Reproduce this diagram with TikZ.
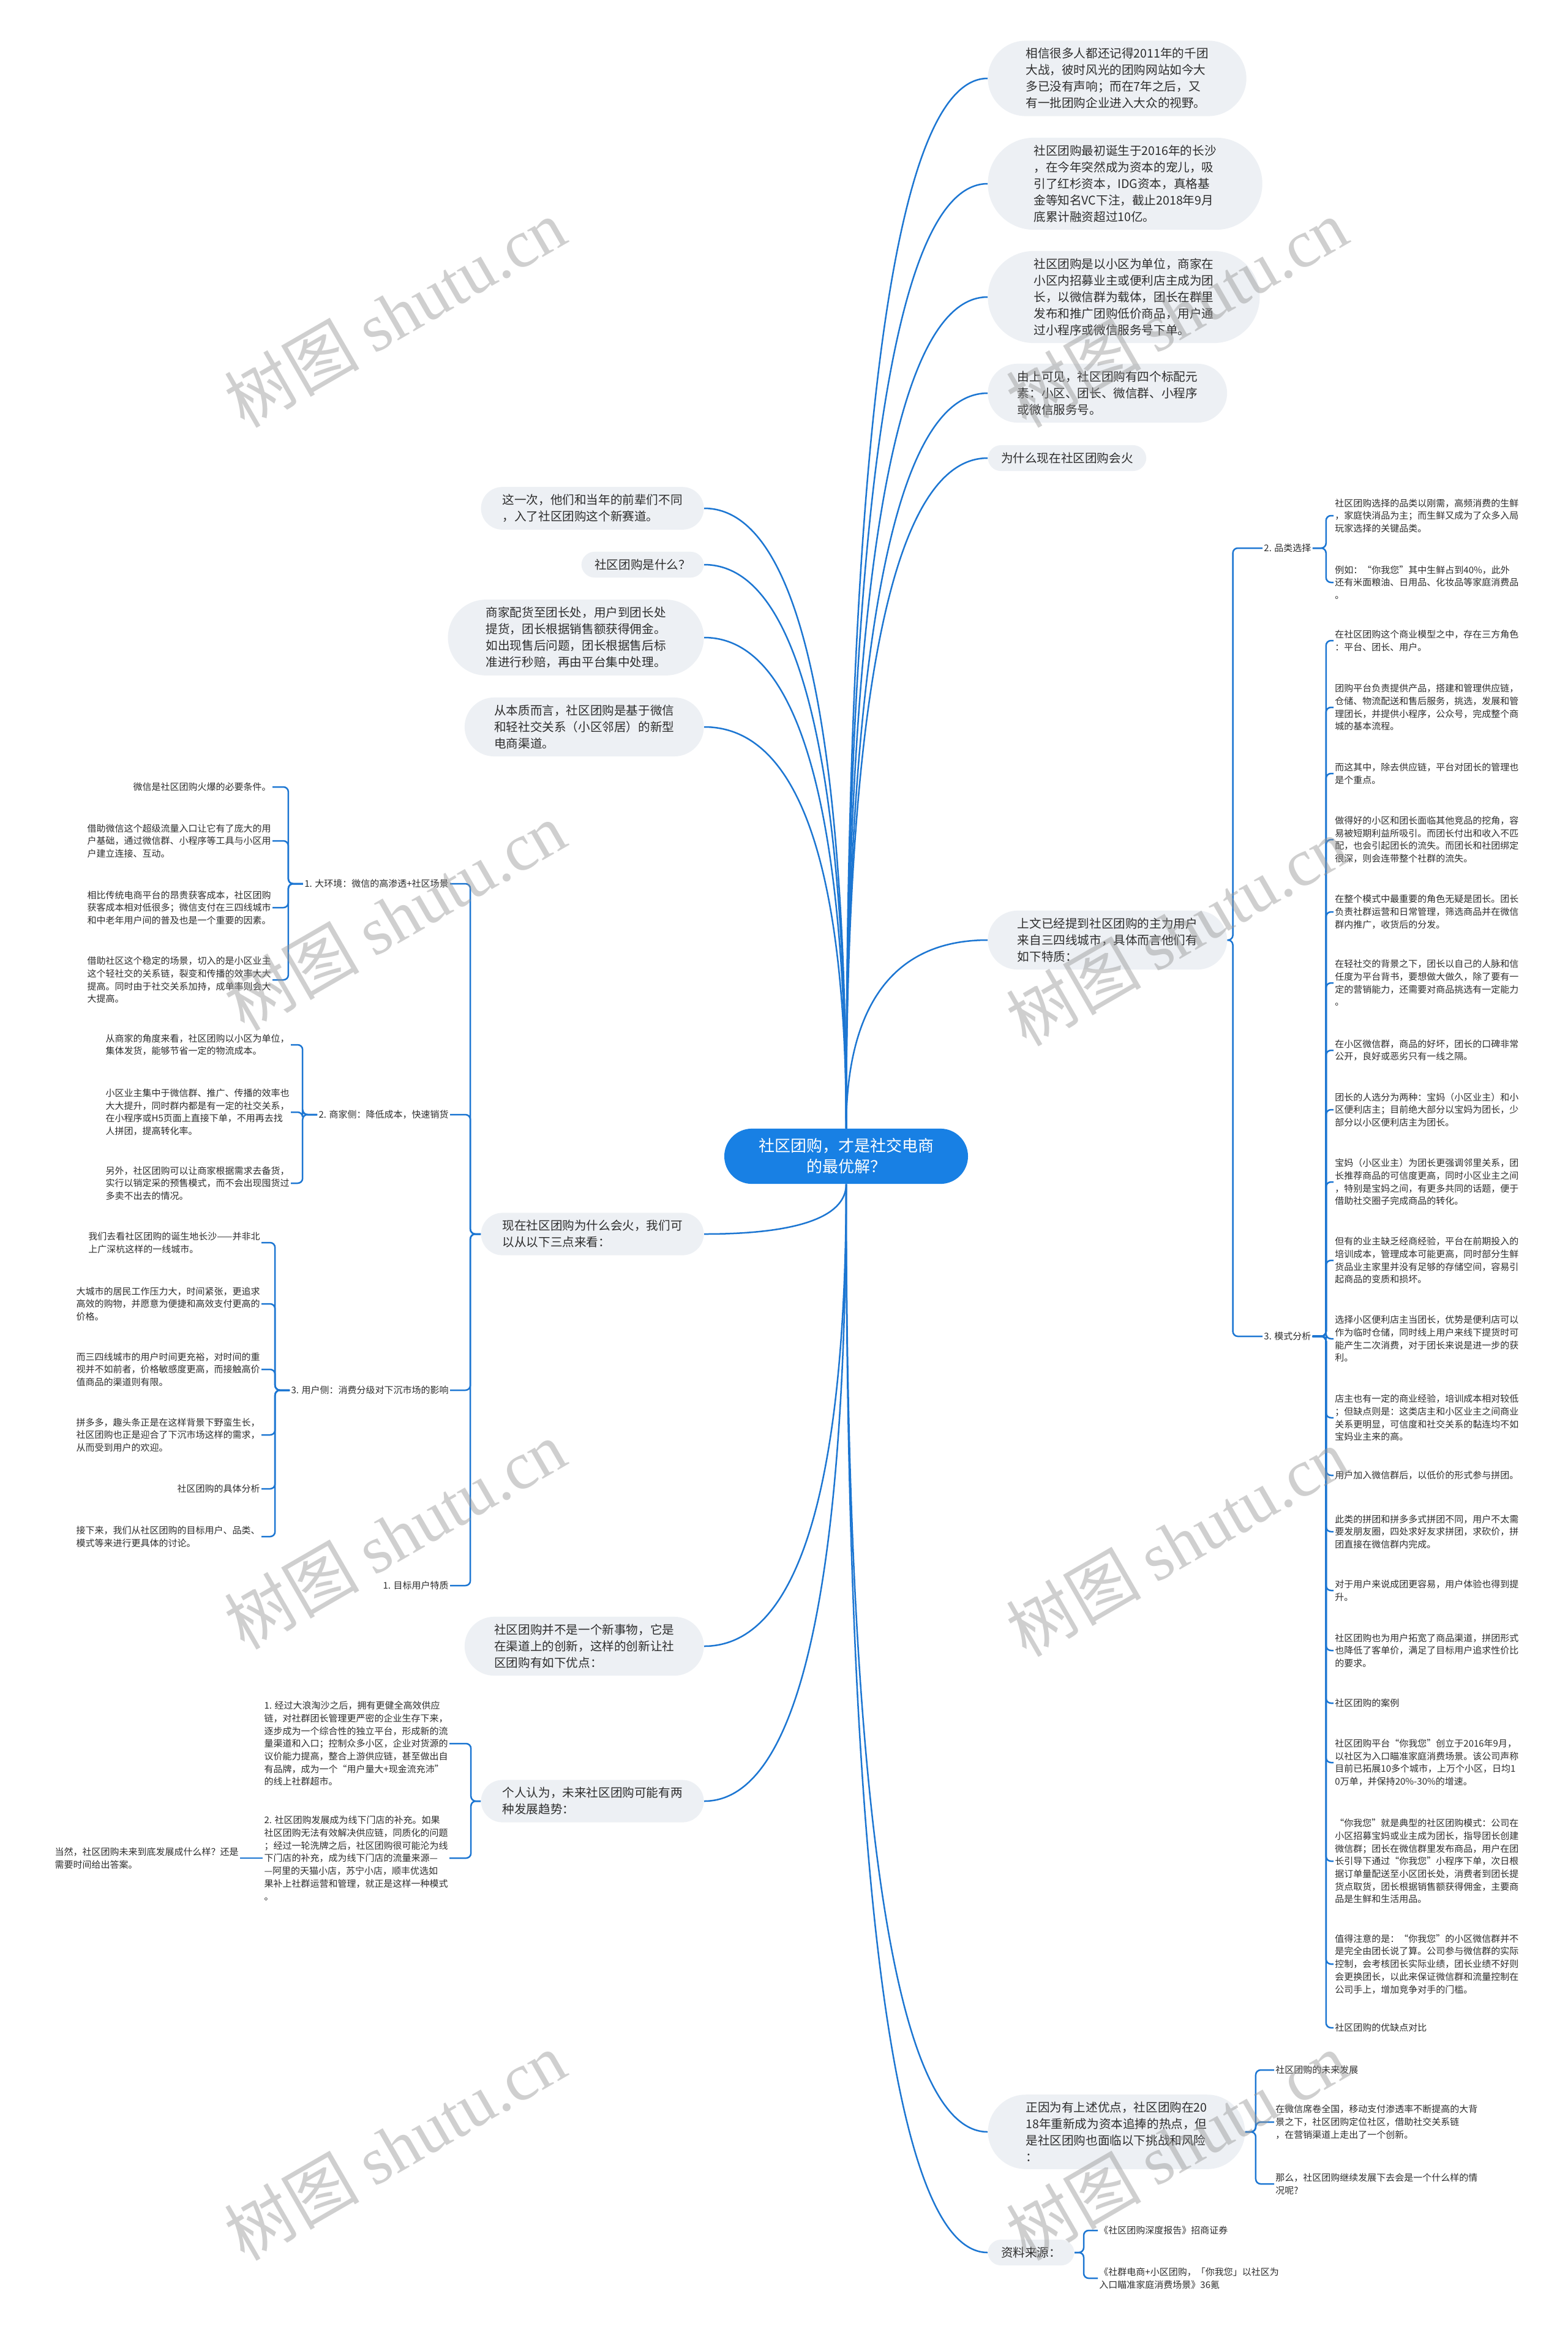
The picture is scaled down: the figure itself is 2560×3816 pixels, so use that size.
\documentclass[tikz,border=0pt]{standalone}
\usepackage{fontspec}
\setmainfont{Noto Sans CJK SC}
\newfontfamily\wmserif{Liberation Serif}
\usetikzlibrary{calc}
\definecolor{lineblue}{RGB}{28,118,210}
\definecolor{centerblue}{RGB}{24,128,228}
\definecolor{nodegray}{RGB}{237,240,244}
\definecolor{textgray}{RGB}{45,45,45}
\definecolor{wmgray}{RGB}{150,150,150}
\newcommand\mmlink[2]{\draw[mline] let \p1=(#1), \p2=(#2) in (\p1) .. controls (\x1,{(\y1+\y2)/2}) and ({0.8*\x1+0.2*\x2},\y2) .. (\p2);}
\newcommand\brl[3]{\draw[brk] (#1.west) -- ++(-#3,0) |- (#2.east);}
\newcommand\brr[3]{\draw[brk] (#1.east) -- ++(#3,0) |- (#2.west);}
\begin{document}
\begin{tikzpicture}[x=0.5pt,y=-0.5pt,
  centernode/.style={fill=centerblue, text=white, rounded corners=22.5pt, inner xsep=28pt, inner ysep=8pt, align=center, font=\fontsize{13}{17}\selectfont},
  bubble/.style={fill=nodegray, text=textgray, align=left, font=\fontsize{9.8}{13.5}\selectfont, inner ysep=6pt, rounded corners=#1, inner xsep=#1},
  leaf/.style={text=textgray, align=left, font=\fontsize{7.5}{10.35}\selectfont, inner sep=1pt},
  mline/.style={draw=lineblue, line width=1.25pt},
  brk/.style={draw=lineblue, line width=1.25pt, rounded corners=4pt},
  wm/.style={text=wmgray, text opacity=0.45, font=\fontsize{55}{60}\selectfont, rotate=30}
]
\useasboundingbox (0,0) rectangle (2560,3816);
\fill[white] (0,0) rectangle (2560,3816);

% centre
\node[centernode] (C) at (1382,1888) {社区团购，才是社交电商\\的最优解？};

% right main nodes
\node[bubble=31pt, anchor=west] (N1) at (1613,128) {相信很多人都还记得2011年的千团\\大战，彼时风光的团购网站如今大\\多已没有声响；而在7年之后，又\\有一批团购企业进入大众的视野。};
\node[bubble=37.5pt, anchor=west] (N2) at (1613,300) {社区团购最初诞生于2016年的长沙\\，在今年突然成为资本的宠儿，吸\\引了红杉资本，IDG资本，真格基\\金等知名VC下注，截止2018年9月\\底累计融资超过10亿。};
\node[bubble=37.5pt, anchor=west] (N3) at (1613,485) {社区团购是以小区为单位，商家在\\小区内招募业主或便利店主成为团\\长，以微信群为载体，团长在群里\\发布和推广团购低价商品，用户通\\过小程序或微信服务号下单。};
\node[bubble=24.2pt, anchor=west] (N4) at (1613,642) {由上可见，社区团购有四个标配元\\素：小区、团长、微信群、小程序\\或微信服务号。};
\node[bubble=10.8pt, anchor=west] (N5) at (1613,748) {为什么现在社区团购会火};
\node[bubble=24.2pt, anchor=west] (N6) at (1613,1535) {上文已经提到社区团购的主力用户\\来自三四线城市，具体而言他们有\\如下特质：};
\node[bubble=31pt, anchor=west] (N7) at (1613,3481) {正因为有上述优点，社区团购在20\\18年重新成为资本追捧的热点，但\\是社区团购也面临以下挑战和风险\\：};
\node[bubble=10.8pt, anchor=west] (N8) at (1613,3678) {资料来源：};

% left main nodes
\node[bubble=17.5pt, anchor=east] (L1) at (1150,830) {这一次，他们和当年的前辈们不同\\，入了社区团购这个新赛道。};
\node[bubble=10.8pt, anchor=east] (L2) at (1150,922) {社区团购是什么？};
\node[bubble=31pt, anchor=east] (L3) at (1150,1041) {商家配货至团长处，用户到团长处\\提货，团长根据销售额获得佣金。\\如出现售后问题，团长根据售后标\\准进行秒赔，再由平台集中处理。};
\node[bubble=24.2pt, anchor=east] (L4) at (1150,1187) {从本质而言，社区团购是基于微信\\和轻社交关系（小区邻居）的新型\\电商渠道。};
\node[bubble=17.5pt, anchor=east] (L5) at (1150,2015) {现在社区团购为什么会火，我们可\\以从以下三点来看：};
\node[bubble=24.2pt, anchor=east] (L6) at (1150,2688) {社区团购并不是一个新事物，它是\\在渠道上的创新，这样的创新让社\\区团购有如下优点：};
\node[bubble=17.5pt, anchor=east] (L7) at (1150,2941) {个人认为，未来社区团购可能有两\\种发展趋势：};

% centre links
\mmlink{C.north}{N1.west}
\mmlink{C.north}{N2.west}
\mmlink{C.north}{N3.west}
\mmlink{C.north}{N4.west}
\mmlink{C.north}{N5.west}
\mmlink{C.north}{N6.west}
\mmlink{C.south}{N7.west}
\mmlink{C.south}{N8.west}
\mmlink{C.north}{L1.east}
\mmlink{C.north}{L2.east}
\mmlink{C.north}{L3.east}
\mmlink{C.north}{L4.east}
\mmlink{C.south}{L5.east}
\mmlink{C.south}{L6.east}
\mmlink{C.south}{L7.east}

% ---------- L5 branch ----------
\node[leaf, anchor=east] (LA) at (735,1443) {1. 大环境：微信的高渗透+社区场景};
\node[leaf, anchor=east] (LB) at (735,1820) {2. 商家侧：降低成本，快速销货};
\node[leaf, anchor=east] (LC) at (735,2270) {3. 用户侧：消费分级对下沉市场的影响};
\node[leaf, anchor=east] (LD) at (735,2589) {1. 目标用户特质};
\brl{L5}{LA}{17}
\brl{L5}{LB}{17}
\brl{L5}{LC}{17}
\brl{L5}{LD}{17}

\node[leaf, anchor=east] (A1) at (445,1285) {微信是社区团购火爆的必要条件。};
\node[leaf, anchor=east] (A2) at (445,1373) {借助微信这个超级流量入口让它有了庞大的用\\户基础，通过微信群、小程序等工具与小区用\\户建立连接、互动。};
\node[leaf, anchor=east] (A3) at (445,1482) {相比传统电商平台的昂贵获客成本，社区团购\\获客成本相对低很多；微信支付在三四线城市\\和中老年用户间的普及也是一个重要的因素。};
\node[leaf, anchor=east] (A4) at (445,1600) {借助社区这个稳定的场景，切入的是小区业主\\这个轻社交的关系链，裂变和传播的效率大大\\提高。同时由于社交关系加持，成单率则会大\\大提高。};
\brl{LA}{A1}{24}
\brl{LA}{A2}{24}
\brl{LA}{A3}{24}
\brl{LA}{A4}{24}

\node[leaf, anchor=east] (B1) at (475,1706) {从商家的角度来看，社区团购以小区为单位，\\集体发货，能够节省一定的物流成本。};
\node[leaf, anchor=east] (B2) at (475,1816) {小区业主集中于微信群、推广、传播的效率也\\大大提升，同时群内都是有一定的社交关系，\\在小程序或H5页面上直接下单，不用再去找\\人拼团，提高转化率。};
\node[leaf, anchor=east] (B3) at (475,1932) {另外，社区团购可以让商家根据需求去备货，\\实行以销定采的预售模式，而不会出现囤货过\\多卖不出去的情况。};
\brl{LB}{B1}{24}
\brl{LB}{B2}{24}
\brl{LB}{B3}{24}

\node[leaf, anchor=east] (U1) at (427,2029) {我们去看社区团购的诞生地长沙——并非北\\上广深杭这样的一线城市。};
\node[leaf, anchor=east] (U2) at (427,2129) {大城市的居民工作压力大，时间紧张，更追求\\高效的购物，并愿意为便捷和高效支付更高的\\价格。};
\node[leaf, anchor=east] (U3) at (427,2236) {而三四线城市的用户时间更充裕，对时间的重\\视并不如前者，价格敏感度更高，而接触高价\\值商品的渠道则有限。};
\node[leaf, anchor=east] (U4) at (427,2343) {拼多多，趣头条正是在这样背景下野蛮生长，\\社区团购也正是迎合了下沉市场这样的需求，\\从而受到用户的欢迎。};
\node[leaf, anchor=east] (U5) at (427,2431) {社区团购的具体分析};
\node[leaf, anchor=east] (U6) at (427,2509) {接下来，我们从社区团购的目标用户、品类、\\模式等来进行更具体的讨论。};
\brl{LC}{U1}{24}
\brl{LC}{U2}{24}
\brl{LC}{U3}{24}
\brl{LC}{U4}{24}
\brl{LC}{U5}{24}
\brl{LC}{U6}{24}

% ---------- L7 branch ----------
\node[leaf, anchor=east] (T1) at (734,2847) {1. 经过大浪淘沙之后，拥有更健全高效供应\\链，对社群团长管理更严密的企业生存下来，\\逐步成为一个综合性的独立平台，形成新的流\\量渠道和入口；控制众多小区，企业对货源的\\议价能力提高，整合上游供应链，甚至做出自\\有品牌，成为一个“用户量大+现金流充沛”\\的线上社群超市。};
\node[leaf, anchor=east] (T2) at (734,3034) {2. 社区团购发展成为线下门店的补充。如果\\社区团购无法有效解决供应链，同质化的问题\\；经过一轮洗牌之后，社区团购很可能沦为线\\下门店的补充，成为线下门店的流量来源—\\—阿里的天猫小店，苏宁小店，顺丰优选如\\果补上社群运营和管理，就正是这样一种模式\\。};
\brl{L7}{T1}{16}
\brl{L7}{T2}{16}
\node[leaf, anchor=east] (D1) at (392,3034) {当然，社区团购未来到底发展成什么样？还是\\需要时间给出答案。};
\draw[mline] (T2.west) -- (D1.east);

% ---------- N6 branch ----------
\node[leaf, anchor=west] (R2) at (2062,895) {2. 品类选择};
\node[leaf, anchor=west] (R3) at (2062,2182) {3. 模式分析};
\brr{N6}{R2}{9}
\brr{N6}{R3}{9}

\node[leaf, anchor=west] (P1) at (2178,842) {社区团购选择的品类以刚需，高频消费的生鲜\\，家庭快消品为主；而生鲜又成为了众多入局\\玩家选择的关键品类。};
\node[leaf, anchor=west] (P2) at (2178,951) {例如：“你我您”其中生鲜占到40\%，此外\\还有米面粮油、日用品、化妆品等家庭消费品\\。};
\brr{R2}{P1}{22}
\brr{R2}{P2}{22}

\node[leaf, anchor=west] (M1) at (2178,1046) {在社区团购这个商业模型之中，存在三方角色\\：平台、团长、用户。};
\node[leaf, anchor=west] (M2) at (2178,1155) {团购平台负责提供产品，搭建和管理供应链，\\仓储、物流配送和售后服务，挑选，发展和管\\理团长，并提供小程序，公众号，完成整个商\\城的基本流程。};
\node[leaf, anchor=west] (M3) at (2178,1263) {而这其中，除去供应链，平台对团长的管理也\\是个重点。};
\node[leaf, anchor=west] (M4) at (2178,1371) {做得好的小区和团长面临其他竞品的挖角，容\\易被短期利益所吸引。而团长付出和收入不匹\\配，也会引起团长的流失。而团长和社团绑定\\很深，则会连带整个社群的流失。};
\node[leaf, anchor=west] (M5) at (2178,1489) {在整个模式中最重要的角色无疑是团长。团长\\负责社群运营和日常管理，筛选商品并在微信\\群内推广，收货后的分发。};
\node[leaf, anchor=west] (M6) at (2178,1605) {在轻社交的背景之下，团长以自己的人脉和信\\任度为平台背书，要想做大做久，除了要有一\\定的营销能力，还需要对商品挑选有一定能力\\。};
\node[leaf, anchor=west] (M7) at (2178,1715) {在小区微信群，商品的好坏，团长的口碑非常\\公开，良好或恶劣只有一线之隔。};
\node[leaf, anchor=west] (M8) at (2178,1812) {团长的人选分为两种：宝妈（小区业主）和小\\区便利店主；目前绝大部分以宝妈为团长，少\\部分以小区便利店主为团长。};
\node[leaf, anchor=west] (M9) at (2178,1930) {宝妈（小区业主）为团长更强调邻里关系，团\\长推荐商品的可信度更高，同时小区业主之间\\，特别是宝妈之间，有更多共同的话题，便于\\借助社交圈子完成商品的转化。};
\node[leaf, anchor=west] (M10) at (2178,2058) {但有的业主缺乏经商经验，平台在前期投入的\\培训成本，管理成本可能更高，同时部分生鲜\\货品业主家里并没有足够的存储空间，容易引\\起商品的变质和损坏。};
\node[leaf, anchor=west] (M11) at (2178,2186) {选择小区便利店主当团长，优势是便利店可以\\作为临时仓储，同时线上用户来线下提货时可\\能产生二次消费，对于团长来说是进一步的获\\利。};
\node[leaf, anchor=west] (M12) at (2178,2315) {店主也有一定的商业经验，培训成本相对较低\\；但缺点则是：这类店主和小区业主之间商业\\关系更明显，可信度和社交关系的黏连均不如\\宝妈业主来的高。};
\node[leaf, anchor=west] (M13) at (2178,2409) {用户加入微信群后，以低价的形式参与拼团。};
\node[leaf, anchor=west] (M14) at (2178,2501) {此类的拼团和拼多多式拼团不同，用户不太需\\要发朋友圈，四处求好友求拼团，求砍价，拼\\团直接在微信群内完成。};
\node[leaf, anchor=west] (M15) at (2178,2597) {对于用户来说成团更容易，用户体验也得到提\\升。};
\node[leaf, anchor=west] (M16) at (2178,2695) {社区团购也为用户拓宽了商品渠道，拼团形式\\也降低了客单价，满足了目标用户追求性价比\\的要求。};
\node[leaf, anchor=west] (M17) at (2178,2781) {社区团购的案例};
\node[leaf, anchor=west] (M18) at (2178,2878) {社区团购平台“你我您”创立于2016年9月，\\以社区为入口瞄准家庭消费场景。该公司声称\\目前已拓展10多个城市，上万个小区，日均1\\0万单，并保持20\%-30\%的增速。};
\node[leaf, anchor=west] (M19) at (2178,3039) {“你我您”就是典型的社区团购模式：公司在\\小区招募宝妈或业主成为团长，指导团长创建\\微信群；团长在微信群里发布商品，用户在团\\长引导下通过“你我您”小程序下单，次日根\\据订单量配送至小区团长处，消费者到团长提\\货点取货，团长根据销售额获得佣金，主要商\\品是生鲜和生活用品。};
\node[leaf, anchor=west] (M20) at (2178,3207) {值得注意的是：“你我您”的小区微信群并不\\是完全由团长说了算。公司参与微信群的实际\\控制，会考核团长实际业绩，团长业绩不好则\\会更换团长，以此来保证微信群和流量控制在\\公司手上，增加竞争对手的门槛。};
\node[leaf, anchor=west] (M21) at (2178,3311) {社区团购的优缺点对比};
\foreach \m in {M1,M2,M3,M4,M5,M6,M7,M8,M9,M10,M11,M12,M13,M14,M15,M16,M17,M18,M19,M20,M21}{\brr{R3}{\m}{22}}

% ---------- N7 branch ----------
\node[leaf, anchor=west] (F1) at (2081,3380) {社区团购的未来发展};
\node[leaf, anchor=west] (F2) at (2081,3465) {在微信席卷全国，移动支付渗透率不断提高的大背\\景之下，社区团购定位社区，借助社交关系链\\，在营销渠道上走出了一个创新。};
\node[leaf, anchor=west] (F3) at (2081,3566) {那么，社区团购继续发展下去会是一个什么样的情\\况呢?};
\brr{N7}{F1}{17}
\brr{N7}{F2}{17}
\brr{N7}{F3}{17}

% ---------- N8 branch ----------
\node[leaf, anchor=west] (S1) at (1793,3642) {《社区团购深度报告》招商证券};
\node[leaf, anchor=west] (S2) at (1793,3720) {《社群电商+小区团购，「你我您」以社区为\\入口瞄准家庭消费场景》36氪};
\brr{N8}{S1}{15}
\brr{N8}{S2}{15}

% watermarks
\foreach \wx/\wy [count=\i] in {645/511, 1922/511, 645/1496, 1922/1521, 645/2506, 1922/2518, 645/3504, 1922/3504}{
  \node[wm] (W\i) at (\wx,\wy) {树图 {\wmserif shutu.cn}};
}
\end{tikzpicture}
\end{document}
